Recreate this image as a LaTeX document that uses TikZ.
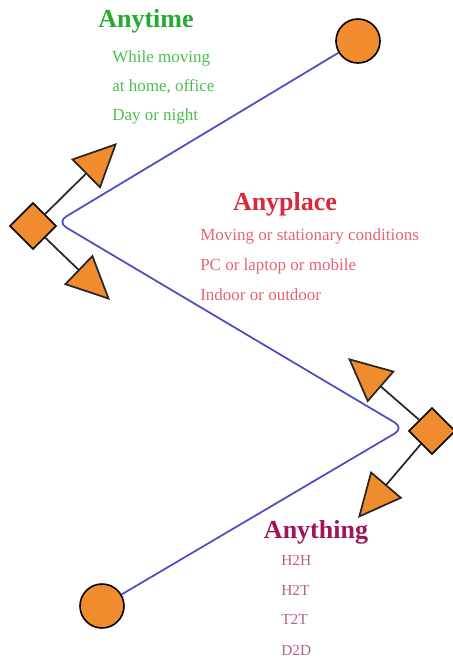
\documentclass[tikz,border=0pt]{standalone}
\usepackage{fontspec}
\setmainfont{Liberation Serif}
\usetikzlibrary{shapes.geometric,arrows.meta}

\definecolor{boxorange}{RGB}{240,140,45}
\definecolor{routeblue}{RGB}{75,75,200}
\definecolor{timegreen}{RGB}{35,170,50}
\definecolor{timegreenlt}{RGB}{75,190,75}
\definecolor{placered}{RGB}{215,40,60}
\definecolor{placeredlt}{RGB}{228,100,112}
\definecolor{thingpurple}{RGB}{160,20,90}
\definecolor{thingpurplelt}{RGB}{180,95,145}

\begin{document}
\begin{tikzpicture}[x=0.75pt,y=-0.75pt,
    hub/.style={diamond,draw=black,fill=boxorange,line width=1.2pt,minimum size=35pt,inner sep=0pt},
    ball/.style={circle,draw=black,fill=boxorange,line width=1.2pt,minimum size=33pt,inner sep=0pt},
    spoke/.style={draw=black!85,line width=1.3pt,-{Triangle[length=33pt,width=31pt,fill=boxorange]}},
    route/.style={draw=routeblue,line width=1.3pt,rounded corners=8pt},
    heading/.style={anchor=base,inner sep=0pt,font=\fontsize{19.5}{22}\selectfont\bfseries},
    item/.style={anchor=base west,inner sep=0pt,font=\fontsize{12.75}{15}\selectfont}]
        \useasboundingbox (0,0) rectangle (453,661);

        % ends and hubs
        \node[ball] (ballT) at (358,41) {};
        \node[ball] (ballB) at (102,606) {};
        \node[hub] (hubL) at (33,226) {};
        \node[hub] (hubR) at (432,431) {};

        \coordinate (kinkL) at (57,222);
        \coordinate (kinkR) at (404,428);
        \coordinate (tipLU) at (117,143);
        \coordinate (tipLD) at (110,300);
        \coordinate (tipRU) at (348,358);
        \coordinate (tipRD) at (358,518);

        % the route
        \draw[route] (ballT) -- (kinkL) -- (kinkR) -- (ballB);

        % arrows out of the hubs
        \draw[spoke] (hubL) -- (tipLU);
        \draw[spoke] (hubL) -- (tipLD);
        \draw[spoke] (hubR) -- (tipRU);
        \draw[spoke] (hubR) -- (tipRD);

        % Anytime
        \node[heading,text=timegreen] (anytime) at (146,27) {Anytime};
        \node[item,text=timegreenlt] (time1) at (112,62) {While moving};
        \node[item,text=timegreenlt] (time2) at (112,91) {at home, office};
        \node[item,text=timegreenlt] (time3) at (112,120) {Day or night};

        % Anyplace
        \node[heading,text=placered] (anyplace) at (285,210) {Anyplace};
        \node[item,text=placeredlt] (place1) at (200,240) {Moving or stationary conditions};
        \node[item,text=placeredlt] (place2) at (200,270) {PC or laptop or mobile};
        \node[item,text=placeredlt] (place3) at (200,300) {Indoor or outdoor};

        % Anything
        \node[heading,text=thingpurple] (anything) at (316,538) {Anything};
        \node[item,text=thingpurplelt,font=\fontsize{11.5}{14}\selectfont] (thing1) at (281,565) {H2H};
        \node[item,text=thingpurplelt,font=\fontsize{11.5}{14}\selectfont] (thing2) at (281,595) {H2T};
        \node[item,text=thingpurplelt,font=\fontsize{11.5}{14}\selectfont] (thing3) at (281,624) {T2T};
        \node[item,text=thingpurplelt,font=\fontsize{11.5}{14}\selectfont] (thing4) at (281,655) {D2D};
\end{tikzpicture}
\end{document}
